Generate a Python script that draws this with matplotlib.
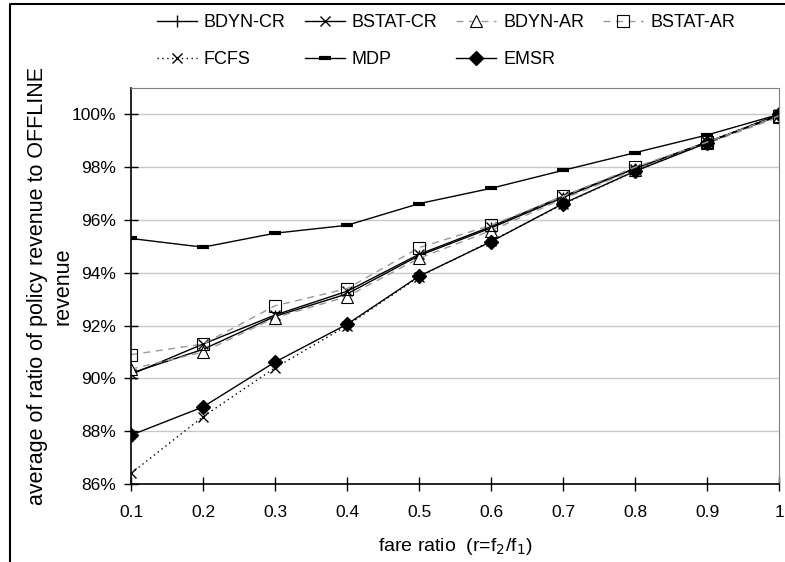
import matplotlib
matplotlib.use("Agg")
import matplotlib.pyplot as plt
from matplotlib.lines import Line2D
from matplotlib.ticker import FuncFormatter

plt.rcParams['font.family'] = ['Liberation Sans', 'DejaVu Sans']

fare_ratio = [0.1, 0.2, 0.3, 0.4, 0.5, 0.6, 0.7, 0.8, 0.9, 1.0]

bdyn_cr = [90.20, 91.10, 92.35, 93.20, 94.65, 95.70, 96.85, 97.95, 98.95, 99.95]
bstat_cr = [90.15, 91.30, 92.40, 93.30, 94.70, 95.75, 96.90, 97.95, 98.95, 99.95]
bdyn_ar = [90.35, 91.00, 92.30, 93.10, 94.55, 95.60, 96.80, 97.90, 98.90, 99.90]
bstat_ar = [90.90, 91.30, 92.75, 93.40, 94.95, 95.80, 96.90, 98.00, 98.95, 99.95]
fcfs = [86.40, 88.55, 90.40, 92.00, 93.85, 95.20, 96.60, 97.85, 98.95, 100.0]
mdp = [95.30, 94.97, 95.50, 95.80, 96.62, 97.20, 97.88, 98.55, 99.22, 100.0]
emsr = [87.85, 88.92, 90.62, 92.05, 93.87, 95.18, 96.62, 97.85, 98.92, 100.0]

fig = plt.figure(figsize=(7.85, 5.62), dpi=100)
ax = fig.add_axes([0.1669, 0.1388, 0.8255, 0.7046])

gray = '#999999'
ax.plot(fare_ratio, bdyn_cr, color='black', lw=1, marker='|', ms=9, mew=1,
        label='BDYN-CR')
ax.plot(fare_ratio, fcfs, color='black', lw=1, ls=(0, (1, 2.5)), marker='x',
        ms=7, mew=1, label='FCFS')
ax.plot(fare_ratio, bstat_cr, color='black', lw=1, marker='x', ms=7, mew=1,
        label='BSTAT-CR')
ax.plot(fare_ratio, mdp, color='black', lw=1, marker='_', ms=9, mew=3,
        label='MDP')
ax.plot(fare_ratio, bdyn_ar, color=gray, lw=1, ls=(0, (5, 4)), marker='^',
        ms=8, mfc='white', mec='black', mew=0.8, label='BDYN-AR')
ax.plot(fare_ratio, emsr, color='black', lw=1, marker='D', ms=7, mfc='black',
        mec='black', label='EMSR')
ax.plot(fare_ratio, bstat_ar, color=gray, lw=1, ls=(0, (5, 4)), marker='s',
        ms=8, mfc='none', mec='black', mew=0.8, label='BSTAT-AR')

ax.set_xlim(0.1, 1.0)
ax.set_ylim(86, 101)
ax.set_xticks(fare_ratio)
ax.set_xticklabels(['0.1', '0.2', '0.3', '0.4', '0.5', '0.6', '0.7', '0.8', '0.9', '1'])
ax.set_yticks(range(86, 101, 2))
ax.yaxis.set_major_formatter(FuncFormatter(lambda v, p: f'{v:.0f}%'))
ax.grid(axis='y', color='#c8c8c8', lw=1)
ax.set_axisbelow(True)

ax.tick_params(direction='inout', length=10, width=1, labelsize=12.5, pad=6)
ax.tick_params(axis='x', pad=10)
for side in ('top', 'right'):
    ax.spines[side].set_color('#808080')
for side in ('left', 'bottom'):
    ax.spines[side].set_linewidth(1.2)

ax.set_xlabel('fare ratio  (r=f$_2$/f$_1$)', fontsize=14, labelpad=12)
ax.set_ylabel('average of ratio of policy revenue to OFFLINE\nrevenue',
              fontsize=15.5, linespacing=1.3)
ax.yaxis.set_label_coords(-0.088, 0.5)

ax.legend(loc='upper left', bbox_to_anchor=(157 / 785, 1 - 14 / 562),
          bbox_transform=fig.transFigure, ncol=4, frameon=False,
          fontsize=13, handlelength=2.2, columnspacing=1.05, handletextpad=0.4,
          labelspacing=1.1, borderpad=0, borderaxespad=0)

# frame around the figure
fig.add_artist(Line2D([10 / 785, 10 / 785, 1.0], [0.0, 1 - 4 / 562, 1 - 4 / 562],
                      transform=fig.transFigure, color='black', lw=1.5))

fig.savefig('out.png', dpi=100)
